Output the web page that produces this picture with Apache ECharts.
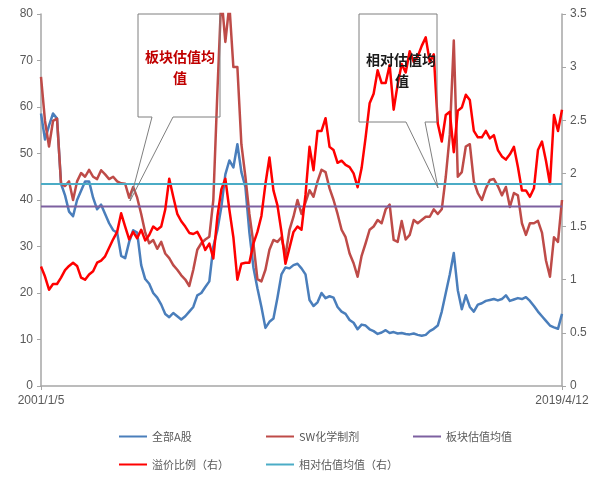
<!DOCTYPE html>
<html>
<head>
<meta charset="utf-8">
<script src="https://cdn.jsdelivr.net/npm/echarts@6/dist/echarts.min.js"></script>
<style>
  html, body { margin: 0; padding: 0; background: #fff; }
  #chart { width: 598px; height: 477px; }
</style>
</head>
<body>
<div id="chart"></div>
<script>
// Period covered by the weekly-sampled valuation series
const startDate = '2001/1/5';
const endDate = '2019/4/12';

// 全部A股 PE (left axis)
const allA = [
  58.6, 53, 56, 58.6, 57.5, 43.5, 41, 37.5, 36.5, 40,
  42, 44, 44, 40.5, 38, 39, 37, 35, 33.5, 33,
  28, 27.5, 31, 33.5, 33, 26, 23, 22, 20, 19,
  17.5, 15.5, 14.8, 15.7, 15, 14.3, 15, 16, 17, 19.5,
  20, 21.3, 22.5, 30, 33.5, 38.5, 45.5, 48.5, 47, 52,
  46, 42.8, 33, 25.5, 21, 17, 12.5, 13.8, 14.5, 19,
  24, 25.5, 25.3, 26, 26.3, 25.3, 24, 18.5, 17.2, 18,
  20, 18.9, 19.3, 19, 17, 16, 15.5, 14.2, 13.6, 12.2,
  13.2, 13, 12.2, 11.8, 11.2, 11.5, 12, 11.4, 11.6, 11.3,
  11.4, 11.2, 11.1, 11.3, 11, 10.8, 11, 11.8, 12.3, 13,
  16, 20, 24, 28.6, 20.6, 16.5, 19.5, 17, 16, 17.5,
  17.8, 18.3, 18.5, 18.7, 18.4, 18.7, 19.5, 18.3, 18.6, 18.9,
  18.7, 19.1, 18.3, 17.2, 16, 15, 14, 13, 12.6, 12.3, 15.5
];

// SW化学制剂 PE (left axis)
const swChem = [
  66.5, 57, 51.5, 57, 57.5, 43.5, 43, 44, 40, 44,
  45.8, 45, 46.5, 45, 44.5, 46.4, 45.5, 44.5, 45, 44,
  43.6, 43.5, 40.5, 42.8, 40.5, 37, 33, 30.7, 31.4, 29.5,
  31, 28.5, 27.5, 26, 25, 23.8, 22.9, 21.5, 25, 29.3,
  30.7, 31.5, 32.1, 40, 63, 84, 74, 82, 68.6, 68.6,
  52, 45, 37, 30.7, 23, 22.5, 25, 29.3, 31.4, 31,
  32, 28, 33.6, 36.4, 40, 37, 39.5, 42.1, 40.7, 44,
  46.5, 46, 42.5, 40, 37, 33.6, 32, 28.5, 26.4, 23.5,
  28, 30.7, 33.6, 34.3, 35.7, 35, 38, 39, 31.4, 31,
  35.5, 31.5, 32.5, 35.7, 35, 35.7, 36.4, 36.4, 38, 37,
  38, 45, 54, 74.3, 45, 46, 51.5, 52, 44, 41.5,
  40, 42.5, 44.3, 44.5, 43, 41, 42.8, 38.5, 41.5, 41,
  35, 32.5, 35, 35, 35.5, 33, 27, 23.5, 32, 31, 40
];

// 溢价比例 (right axis)
const premium = [
  1.125, 1.03, 0.906, 0.96, 0.96, 1.02, 1.09, 1.13, 1.16, 1.13,
  1.02, 1.0, 1.05, 1.08, 1.16, 1.18, 1.22, 1.3, 1.38, 1.45,
  1.625, 1.5, 1.38, 1.45, 1.39, 1.47, 1.37, 1.42, 1.5, 1.47,
  1.5, 1.66, 1.95, 1.78, 1.62, 1.55, 1.5, 1.44, 1.43, 1.45,
  1.38, 1.28, 1.34, 1.2, 1.59, 1.85, 1.95, 1.66, 1.4, 1.0,
  1.15, 1.16, 1.16, 1.34, 1.45, 1.6, 1.9, 2.15, 1.84, 1.7,
  1.45, 1.15, 1.3, 1.45, 1.5, 1.47, 1.8, 2.25, 2.03, 2.4,
  2.4, 2.52, 2.25, 2.22, 2.1, 2.12, 2.08, 2.06, 2.0, 1.87,
  2.05, 2.34, 2.66, 2.75, 2.97, 2.85, 2.85, 3.02, 2.6, 2.84,
  3.03, 2.95, 3.15, 3.05, 3.1, 3.2, 3.28, 3.05, 3.12, 2.47,
  2.3, 2.55, 2.58, 2.2, 2.59, 2.62, 2.74, 2.69, 2.4, 2.34,
  2.34, 2.4, 2.33, 2.36, 2.22, 2.16, 2.13, 2.18, 2.25, 2.06,
  1.84, 1.84, 1.78, 1.86, 2.22, 2.3, 2.12, 1.9, 2.55, 2.4, 2.6
];

// Long-run averages
const sectorMean = 38.6;   // 板块估值均值 (left axis)
const relativeMean = 1.9;  // 相对估值均值 (right axis)

// Date labels for each sample, evenly spaced between the first and last week
const n = allA.length;
const t0 = Date.UTC(2001, 0, 5), t1 = Date.UTC(2019, 3, 12);
const dates = allA.map((_, i) => {
  if (i === 0) return startDate;
  if (i === n - 1) return endDate;
  const d = new Date(t0 + (t1 - t0) * i / (n - 1));
  return d.getUTCFullYear() + '/' + (d.getUTCMonth() + 1) + '/' + d.getUTCDate();
});

const sectorLine = dates.map(() => sectorMean);
const relativeLine = dates.map(() => relativeMean);

const axisGrey = '#a6a6a6';
const labelColor = '#595959';
const font = 'Liberation Sans, Arial, sans-serif';
const cjk = '"Noto Sans CJK SC", sans-serif';

const chart = echarts.init(document.getElementById('chart'), null, { renderer: 'canvas' });

function lineSeries(name, data, color, yAxisIndex, width) {
  return {
    name, type: 'line', data, yAxisIndex,
    showSymbol: false, symbol: 'none',
    lineStyle: { color, width, join: 'round' },
    itemStyle: { color },
    emphasis: { disabled: true },
    animation: false
  };
}

function legendItem(name, left, top) {
  return {
    data: [name], left, top, padding: 0,
    icon: 'rect', itemWidth: 28, itemHeight: 2,
    selectedMode: false,
    textStyle: { fontSize: 11, color: labelColor, fontFamily: cjk }
  };
}

chart.setOption({
  backgroundColor: '#fff',
  animation: false,
  grid: { left: 41, right: 36, top: 14, bottom: 91 },
  xAxis: {
    type: 'category', data: dates, boundaryGap: false,
    axisLine: { lineStyle: { color: axisGrey, width: 1.5 } },
    axisTick: { show: true, length: 4, interval: (i) => i === 0 || i === n - 1, lineStyle: { color: axisGrey } },
    axisLabel: {
      interval: (i) => i === 0 || i === n - 1,
      color: labelColor, fontSize: 12, fontFamily: font, margin: 9
    },
    splitLine: { show: false }
  },
  yAxis: [
    {
      type: 'value', min: 0, max: 80, interval: 10,
      axisLine: { show: true, lineStyle: { color: axisGrey, width: 1.5 } },
      axisTick: { show: true, length: 4, lineStyle: { color: axisGrey } },
      axisLabel: { color: labelColor, fontSize: 12, fontFamily: font, margin: 8 },
      splitLine: { show: false }
    },
    {
      type: 'value', min: 0, max: 3.5, interval: 0.5, position: 'right',
      axisLine: { show: true, lineStyle: { color: axisGrey, width: 1.5 } },
      axisTick: { show: true, length: 4, lineStyle: { color: axisGrey } },
      axisLabel: { color: labelColor, fontSize: 12, fontFamily: font, margin: 8 },
      splitLine: { show: false }
    }
  ],
  legend: [
    legendItem('全部A股', 119, 431),
    legendItem('SW化学制剂', 266, 431),
    legendItem('板块估值均值', 413, 431),
    legendItem('溢价比例（右）', 119, 459),
    legendItem('相对估值均值（右）', 266, 459)
  ],
  series: [
    lineSeries('全部A股', allA, '#4a7ebb', 0, 2.5),
    lineSeries('SW化学制剂', swChem, '#be4b48', 0, 2.5),
    lineSeries('板块估值均值', sectorLine, '#7d60a0', 0, 2),
    lineSeries('溢价比例（右）', premium, '#ff0000', 1, 2.5),
    lineSeries('相对估值均值（右）', relativeLine, '#4bacc6', 1, 2)
  ],
  graphic: [
    {
      type: 'polygon', z: 100,
      shape: { points: [[138, 14], [220, 14], [220, 117], [173, 117], [130, 201], [152, 117], [138, 117]] },
      style: { fill: 'rgba(255,255,255,0)', stroke: '#7f7f7f', lineWidth: 1 }
    },
    {
      type: 'text', z: 101, x: 180, y: 57,
      style: { text: '板块估值均', font: 'bold 14px ' + cjk, fill: '#c00000', textAlign: 'center', textVerticalAlign: 'middle' }
    },
    {
      type: 'text', z: 101, x: 180, y: 78,
      style: { text: '值', font: 'bold 14px ' + cjk, fill: '#c00000', textAlign: 'center', textVerticalAlign: 'middle' }
    },
    {
      type: 'polygon', z: 100,
      shape: { points: [[359, 14], [437, 14], [437, 122], [425, 122], [438, 188], [406, 122], [359, 122]] },
      style: { fill: 'rgba(255,255,255,0)', stroke: '#7f7f7f', lineWidth: 1 }
    },
    {
      type: 'text', z: 101, x: 401, y: 60,
      style: { text: '相对估值均', font: 'bold 14px ' + cjk, fill: '#1a1a1a', textAlign: 'center', textVerticalAlign: 'middle' }
    },
    {
      type: 'text', z: 101, x: 402, y: 81,
      style: { text: '值', font: 'bold 14px ' + cjk, fill: '#1a1a1a', textAlign: 'center', textVerticalAlign: 'middle' }
    }
  ]
});
</script>
</body>
</html>
